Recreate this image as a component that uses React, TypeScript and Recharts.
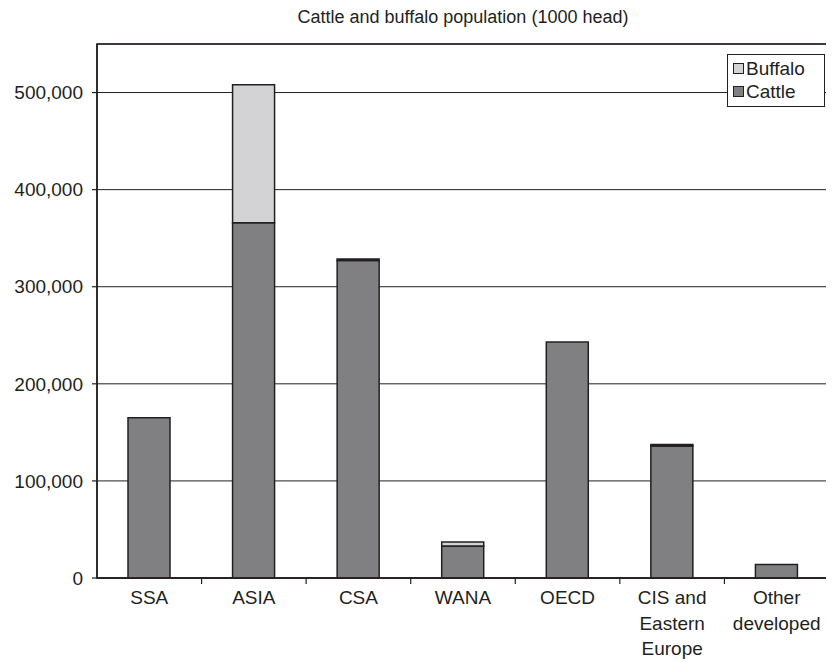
import React from 'react'
import {
  BarChart, Bar, XAxis, YAxis, CartesianGrid, ReferenceArea,
} from 'recharts'

const REGIONS = ['SSA', 'ASIA', 'CSA', 'WANA', 'OECD', 'CIS and\nEastern\nEurope', 'Other\ndeveloped']
const CATTLE = [165000, 366000, 327000, 33000, 243000, 136000, 14000]
const BUFFALO = [0, 142000, 1500, 4000, 0, 1500, 0]
const Y_TICKS = [0, 100000, 200000, 300000, 400000, 500000]

const SERIES = [
  { key: 'buffalo', name: 'Buffalo', color: '#d3d3d5' },
  { key: 'cattle', name: 'Cattle', color: '#808083' },
]

const W = 826
const H = 654
const M = { top: 36, right: 5, bottom: 0, left: 0 }
const Y_W = 89
const X_H = 84
const BAND = (W - M.left - M.right - Y_W) / REGIONS.length
const INK = '#231f20'
const FONT = '"Liberation Sans", Arial, Helvetica, sans-serif'

const data = REGIONS.map((region, i) => ({
  region,
  cattle: CATTLE[i],
  buffalo: BUFFALO[i],
}))

const XTick = ({ x, y, payload, index }: any) => {
  const lines = String(payload.value).split('\n')
  return (
    <g>
      {index < REGIONS.length - 1 && (
        <line x1={x + BAND / 2} x2={x + BAND / 2} y1={y} y2={y + 6} stroke={INK} strokeWidth={1.2} />
      )}
      <text x={x} y={y + 26} textAnchor="middle" fill={INK} fontSize={19} fontFamily={FONT}>
        {lines.map((l, i) => (
          <tspan key={i} x={x} dy={i === 0 ? 0 : 25.5}>{l}</tspan>
        ))}
      </text>
    </g>
  )
}

export default function App() {
  return (
    <div style={{ position: 'relative', width: W, height: H, fontFamily: FONT, background: '#fff' }}>
      <div style={{
        position: 'absolute', left: Y_W, width: W - Y_W - M.right, top: -2,
        textAlign: 'center', fontSize: 18, color: INK, lineHeight: '22px',
      }}>
        Cattle and buffalo population (1000 head)
      </div>
      <BarChart width={W} height={H} data={data} margin={M} barSize={42}>
        <CartesianGrid vertical={false} stroke={INK} strokeWidth={1} />
        <ReferenceArea y1={0} y2={550000} fill="none" stroke={INK} strokeWidth={1.5} ifOverflow="visible" />
        <XAxis
          dataKey="region"
          height={X_H}
          interval={0}
          tickLine={false}
          tickSize={0}
          tickMargin={0}
          axisLine={{ stroke: INK, strokeWidth: 1.5 }}
          tick={<XTick />}
        />
        <YAxis
          width={Y_W}
          domain={[0, 550000]}
          ticks={Y_TICKS}
          interval={0}
          tickSize={5}
          tickMargin={9}
          tickFormatter={(v) => Number(v).toLocaleString('en-US')}
          tick={{ fontSize: 19, fill: INK, fontFamily: FONT }}
          tickLine={{ stroke: INK, strokeWidth: 1.2 }}
          axisLine={{ stroke: INK, strokeWidth: 1.5 }}
        />
        <Bar dataKey="cattle" stackId="a" fill={SERIES[1].color} stroke={INK} strokeWidth={1.5} isAnimationActive={false} />
        <Bar dataKey="buffalo" stackId="a" fill={SERIES[0].color} stroke={INK} strokeWidth={1.5} isAnimationActive={false} />
      </BarChart>
      <div style={{
        position: 'absolute', left: 719, top: 46, width: 98, height: 53,
        border: `1.5px solid ${INK}`, background: '#fff', fontSize: 19, color: INK,
        padding: '2px 0 0 5px', boxSizing: 'border-box', lineHeight: '23px',
      }}>
        {SERIES.map((s) => (
          <div key={s.key} style={{ display: 'flex', alignItems: 'center', height: 23 }}>
            <span style={{
              display: 'inline-block', width: 9, height: 9, background: s.color,
              border: `1px solid ${INK}`, marginRight: 2, flex: 'none',
            }} />
            {s.name}
          </div>
        ))}
      </div>
    </div>
  )
}
